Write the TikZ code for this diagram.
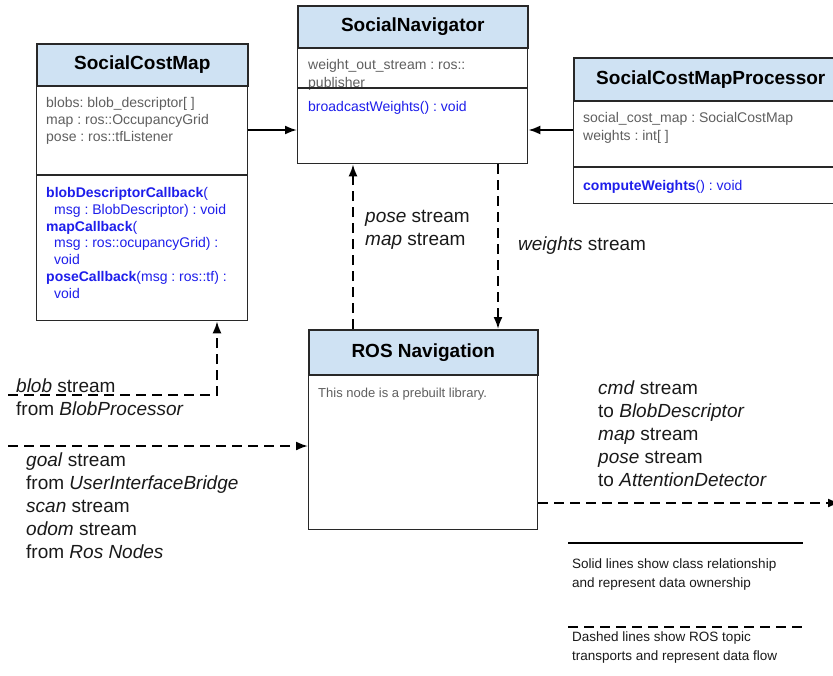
\documentclass[tikz,border=0pt]{standalone}
\usepackage{fontspec}
\setmainfont{Liberation Sans}
\usepackage{xcolor}
\usepackage{tikz}
\definecolor{header}{RGB}{207,226,243}
\definecolor{frame}{RGB}{40,40,40}
\definecolor{attr}{RGB}{95,95,95}
\definecolor{method}{RGB}{30,30,235}
\definecolor{label}{RGB}{25,25,25}
\usetikzlibrary{arrows.meta,calc}
\frenchspacing

\begin{document}
\begin{tikzpicture}[x=1pt,y=-1pt,
    classbox/.style={draw=frame, line width=1.3pt, fill=white, anchor=north west, inner sep=0pt},
    headbox/.style={draw=frame, line width=1.6pt, fill=header, anchor=north west, inner sep=0pt,
        font=\fontsize{19}{23}\selectfont\bfseries},
    attrtext/.style={anchor=north west, inner sep=0pt, align=left, text=attr,
        font=\fontsize{14}{17.3}\selectfont},
    methodtext/.style={anchor=north west, inner sep=0pt, align=left, text=method,
        font=\fontsize{14}{16.7}\selectfont},
    streamtext/.style={anchor=north west, inner sep=0pt, align=left, text=label,
        font=\fontsize{19}{23}\selectfont},
    legendtext/.style={anchor=north west, inner sep=0pt, align=left, text=label,
        font=\fontsize{13.5}{19}\selectfont},
    owns/.style={draw=black, line width=2pt, -{Latex[length=12pt,width=9pt]}},
    flow/.style={draw=black, line width=2pt, dash pattern=on 10pt off 6pt, -{Latex[length=12pt,width=9pt]}}]
    \useasboundingbox (0,0) rectangle (833,675);

    % SocialCostMap class
    \node[classbox, minimum width=211pt, minimum height=277pt] (costmap) at (36,43) {};
    \node[headbox, minimum width=211pt, minimum height=42pt] (costmapHead) at (costmap.north west) {SocialCostMap};
    \node[attrtext] (costmapAttr) at (46,97) {blobs: blob\_descriptor[ ]\\map : ros::OccupancyGrid\\pose : ros::tfListener};
    \coordinate (costmapCut) at (0,175);
    \draw[frame, line width=1.3pt] (costmap.west |- costmapCut) -- (costmap.east |- costmapCut);
    \node[methodtext] (costmapOps) at (46,187.5) {\textbf{blobDescriptorCallback}(\\
        \hspace*{8pt}msg : BlobDescriptor) : void\\
        \textbf{mapCallback}(\\
        \hspace*{8pt}msg : ros::ocupancyGrid) :\\
        \hspace*{8pt}void\\
        \textbf{poseCallback}(msg : ros::tf) :\\
        \hspace*{8pt}void};

    % SocialNavigator class
    \node[classbox, minimum width=230pt, minimum height=158pt] (navigator) at (297,5) {};
    \node[headbox, minimum width=230pt, minimum height=42pt] (navigatorHead) at (navigator.north west) {SocialNavigator};
    \node[attrtext] (navigatorAttr) at (308,59.5) {weight\_out\_stream : ros::\\publisher};
    \coordinate (navigatorCut) at (0,88);
    \draw[frame, line width=1.3pt] (navigator.west |- navigatorCut) -- (navigator.east |- navigatorCut);
    \node[methodtext] (navigatorOps) at (308,101.5) {broadcastWeights() : void};

    % SocialCostMapProcessor class
    \node[classbox, minimum width=274pt, minimum height=146pt] (processor) at (573,57) {};
    \node[headbox, minimum width=274pt, minimum height=43pt] (processorHead) at (processor.north west) {SocialCostMapProcessor};
    \node[attrtext] (processorAttr) at (583,112.5) {social\_cost\_map : SocialCostMap\\weights : int[ ]};
    \coordinate (processorCut) at (0,167);
    \draw[frame, line width=1.3pt] (processor.west |- processorCut) -- (processor.east |- processorCut);
    \node[methodtext] (processorOps) at (583,180.5) {\textbf{computeWeights}() : void};

    % ROS Navigation
    \node[classbox, minimum width=229pt, minimum height=200pt] (rosnav) at (308,329) {};
    \node[headbox, minimum width=229pt, minimum height=45pt] (rosnavHead) at (rosnav.north west) {ROS Navigation};
    \node[anchor=north west, inner sep=0pt, text=attr, font=\fontsize{13}{16}\selectfont] (rosnavNote) at (318,388) {This node is a prebuilt library.};

    % ownership
    \coordinate (ownY) at (0,130);
    \draw[owns] (costmap.east |- ownY) -- (navigator.west |- ownY);
    \draw[owns] (processor.west |- ownY) -- (navigator.east |- ownY);

    % topics
    \coordinate (upX) at (353,0);
    \coordinate (downX) at (498,0);
    \coordinate (blobX) at (217,0);
    \coordinate (blobStart) at (8,395);
    \coordinate (goalStart) at (8,446);
    \coordinate (cmdEnd) at (840,503);
    \draw[flow] (rosnav.north -| upX) -- (navigator.south -| upX);
    \draw[flow] (navigator.south -| downX) -- (rosnav.north -| downX);
    \draw[flow] (blobStart) -| (costmap.south -| blobX);
    \draw[flow] (goalStart) -- (rosnav.west |- goalStart);
    \draw[flow] (rosnav.east |- cmdEnd) -- (cmdEnd);

    \node[streamtext] (poseLabel) at (365,210) {\textit{pose} stream\\\textit{map} stream};
    \node[streamtext] (weightsLabel) at (518,237) {\textit{weights} stream};
    \node[streamtext] (blobLabel) at (16,379) {\textit{blob} stream\\from \textit{BlobProcessor}};
    \node[streamtext] (goalLabel) at (26,453) {\textit{goal} stream\\from \textit{UserInterfaceBridge}\\\textit{scan} stream\\\textit{odom} stream\\from \textit{Ros Nodes}};
    \node[streamtext] (cmdLabel) at (598,381) {\textit{cmd} stream\\to \textit{BlobDescriptor}\\\textit{map} stream\\\textit{pose} stream\\to \textit{AttentionDetector}};

    % legend
    \coordinate (solidA) at (568,543);
    \coordinate (solidB) at (803,543);
    \coordinate (dashA) at (568,627);
    \coordinate (dashB) at (803,627);
    \draw[black, line width=2pt] (solidA) -- (solidB);
    \draw[black, line width=2pt, dash pattern=on 10pt off 6pt] (dashA) -- (dashB);
    \node[legendtext] (solidNote) at (572,559) {Solid lines show class relationship\\and represent data ownership};
    \node[legendtext] (dashNote) at (572,632) {Dashed lines show ROS topic\\transports and represent data flow};
\end{tikzpicture}
\end{document}
